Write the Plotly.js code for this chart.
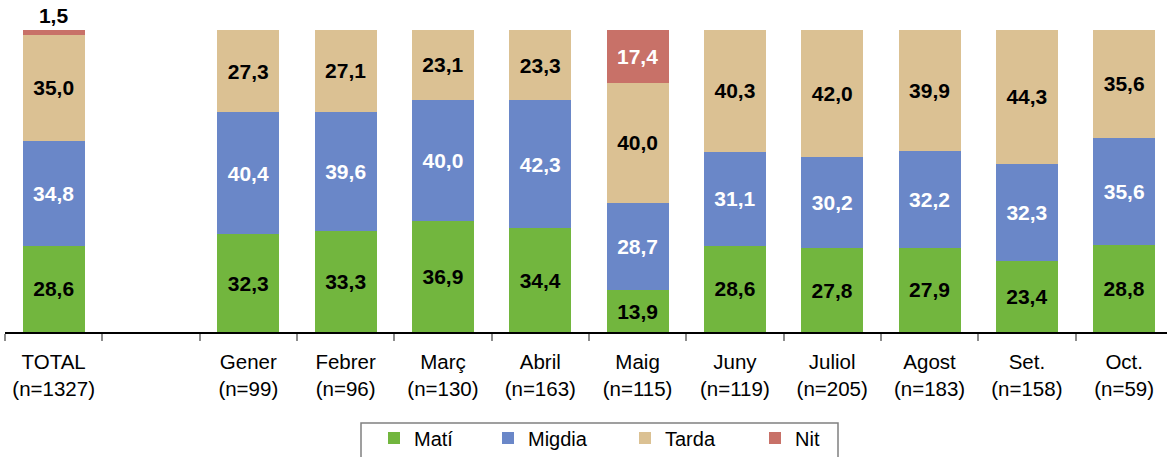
<!DOCTYPE html>
<html>
<head>
<meta charset="utf-8">
<script src="https://cdn.plot.ly/plotly-3.0.1.min.js"></script>
<style>html,body{margin:0;padding:0;background:#fff;}#chart{width:1167px;height:457px;}</style>
</head>
<body>
<div id="chart"></div>
<script>
const categories = ['TOTAL', ' ', 'Gener', 'Febrer', 'Març', 'Abril', 'Maig', 'Juny', 'Juliol', 'Agost', 'Set.', 'Oct.'];
const sampleSizes = [1327, null, 99, 96, 130, 163, 115, 119, 205, 183, 158, 59];
const mati   = [28.6, null, 32.3, 33.3, 36.9, 34.4, 13.9, 28.6, 27.8, 27.9, 23.4, 28.8];
const migdia = [34.8, null, 40.4, 39.6, 40.0, 42.3, 28.7, 31.1, 30.2, 32.2, 32.3, 35.6];
const tarda  = [35.0, null, 27.3, 27.1, 23.1, 23.3, 40.0, 40.3, 42.0, 39.9, 44.3, 35.6];
const nit    = [1.5, null, null, null, null, null, 17.4, null, null, null, null, null];
const seriesNames = ['Matí', 'Migdia', 'Tarda', 'Nit'];

const colors = ['#72B63E', '#6A87C8', '#DBC193', '#C87168'];
const font = 'Liberation Sans, Arial, sans-serif';
const W = 1167, H = 457;
const tickText = categories.map((c, i) => sampleSizes[i] == null ? '' : c + '<br>(n=' + sampleSizes[i] + ')');

function fmt(v) { return v == null ? '' : v.toFixed(1).replace('.', ','); }

const legendIds = ['legend', 'legend2', 'legend3', 'legend4'];
const legendLeft = [374, 488, 625, 755];

function mk(idx, vals, txtColor, positions) {
  return {
    type: 'bar', name: seriesNames[idx], x: categories, y: vals,
    legend: legendIds[idx],
    marker: {color: colors[idx], line: {width: 0}},
    text: vals.map(fmt),
    textposition: positions || 'inside',
    insidetextanchor: 'middle',
    textangle: 0,
    cliponaxis: false,
    constraintext: 'none',
    textfont: {family: font, size: 21, weight: 700, color: txtColor},
    hoverinfo: 'skip'
  };
}

const data = [
  mk(0, mati, '#000'),
  mk(1, migdia, '#fff'),
  mk(2, tarda, '#000'),
  mk(3, nit, nit.map((v, i) => i === 0 ? '#000' : '#fff'),
     nit.map((v, i) => i === 0 ? 'outside' : 'inside'))
];

const layout = {
  width: W, height: H,
  margin: {l: 5, r: 0, t: 30, b: 125, autoexpand: false},
  barmode: 'stack',
  bargap: 0.363,
  paper_bgcolor: '#fff', plot_bgcolor: '#fff',
  font: {family: font, size: 20, color: '#000'},
  showlegend: true,
  xaxis: {
    type: 'category', categoryorder: 'array', categoryarray: categories,
    range: [-0.5, 11.44], fixedrange: true, automargin: false,
    tickmode: 'array', tickvals: categories, ticktext: tickText,
    tickson: 'boundaries', ticks: 'outside', ticklen: 7, tickwidth: 2, tickcolor: '#8c8c8c',
    ticklabelstandoff: 11,
    showline: true, linecolor: '#000', linewidth: 1.5,
    showgrid: false, zeroline: false,
    tickfont: {family: font, size: 20.5, color: '#000'}
  },
  yaxis: {
    range: [0, 100], visible: false, showgrid: false, zeroline: false, fixedrange: true, automargin: false
  },
  shapes: [{
    type: 'rect', xref: 'paper', yref: 'paper',
    x0: (361 - 5) / 1162, x1: (838 - 5) / 1162,
    y0: (332 - 470) / 302, y1: (332 - 423) / 302,
    line: {color: '#808080', width: 1.5}, fillcolor: 'rgba(0,0,0,0)', layer: 'above'
  }]
};

legendIds.forEach((id, i) => {
  layout[id] = {
    xref: 'container', yref: 'container',
    x: legendLeft[i] / W, xanchor: 'left',
    y: 1 - 438 / H, yanchor: 'middle',
    bgcolor: 'rgba(0,0,0,0)', borderwidth: 0,
    font: {family: font, size: 20, color: '#000'}
  };
});

Plotly.newPlot('chart', data, layout, {displayModeBar: false, staticPlot: true});
</script>
</body>
</html>
